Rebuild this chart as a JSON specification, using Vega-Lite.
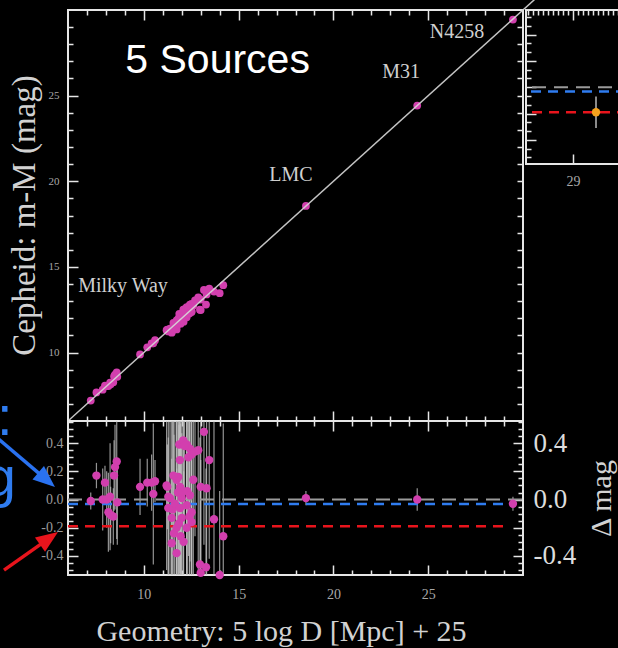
{
  "$schema": "https://vega.github.io/schema/vega-lite/v6.json",
  "autosize": {"type": "none"},
  "padding": {"left": 68, "top": 10, "right": 550, "bottom": 638},
  "background": "#000000",
  "bounds": "flush",
  "columns": 2,
  "spacing": {"row": 0, "column": 3},
  "align": "each",
  "config": {
    "view": {"stroke": "#e6e6e6", "strokeWidth": 2},
    "axis": {"domain": false, "grid": false, "labelFont": "Liberation Serif", "titleFont": "Liberation Serif", "titleFontWeight": "normal", "labelColor": "#a8a8a8", "titleColor": "#d2d2d2", "tickColor": "#e6e6e6", "tickWidth": 1.5, "labelFlush": false, "labelOverlap": false, "labelFontSize": 12}
  },
  "datasets": {
    "pts": [
      {"x": 7.2, "y": 7.19, "d": -0.01, "e": 0.06},
      {"x": 7.5, "y": 7.67, "d": 0.17, "e": 0.09},
      {"x": 7.95, "y": 8.07, "d": 0.12, "e": 0.12},
      {"x": 7.83, "y": 7.83, "d": 0.0, "e": 0.22},
      {"x": 8.04, "y": 8.04, "d": 0.0, "e": 0.2},
      {"x": 8.22, "y": 8.24, "d": 0.02, "e": 0.38},
      {"x": 8.13, "y": 8.04, "d": -0.09, "e": 0.28},
      {"x": 8.25, "y": 8.14, "d": -0.11, "e": 0.2},
      {"x": 8.39, "y": 8.27, "d": -0.12, "e": 0.2},
      {"x": 8.43, "y": 8.6, "d": 0.17, "e": 0.25},
      {"x": 8.48, "y": 8.71, "d": 0.23, "e": 0.3},
      {"x": 8.57, "y": 8.84, "d": 0.27, "e": 0.55},
      {"x": 8.6, "y": 8.58, "d": -0.02, "e": 0.3},
      {"x": 9.8, "y": 9.89, "d": 0.09, "e": 0.2},
      {"x": 10.18, "y": 10.3, "d": 0.12, "e": 0.17},
      {"x": 10.41, "y": 10.53, "d": 0.12, "e": 0.2},
      {"x": 10.59, "y": 10.72, "d": 0.13, "e": 0.15},
      {"x": 10.5, "y": 10.54, "d": 0.04, "e": 0.5},
      {"x": 11.2, "y": 11.3, "d": 0.1, "e": 0.6},
      {"x": 11.24, "y": 11.33, "d": 0.09, "e": 0.3},
      {"x": 11.29, "y": 11.31, "d": 0.02, "e": 0.7},
      {"x": 11.38, "y": 11.39, "d": 0.01, "e": 0.8},
      {"x": 11.29, "y": 11.23, "d": -0.06, "e": 0.5},
      {"x": 11.47, "y": 11.34, "d": -0.13, "e": 0.9},
      {"x": 11.47, "y": 11.16, "d": -0.31, "e": 0.6},
      {"x": 11.52, "y": 11.45, "d": -0.07, "e": 0.8},
      {"x": 11.59, "y": 11.35, "d": -0.24, "e": 0.7},
      {"x": 11.64, "y": 11.61, "d": -0.03, "e": 0.9},
      {"x": 11.73, "y": 11.53, "d": -0.2, "e": 0.8},
      {"x": 11.73, "y": 11.35, "d": -0.38, "e": 0.6},
      {"x": 11.73, "y": 11.87, "d": 0.14, "e": 0.7},
      {"x": 11.82, "y": 11.98, "d": 0.16, "e": 0.9},
      {"x": 11.87, "y": 12.26, "d": 0.39, "e": 0.5},
      {"x": 11.9, "y": 12.18, "d": 0.28, "e": 0.8},
      {"x": 11.91, "y": 12.0, "d": 0.09, "e": 0.9},
      {"x": 11.91, "y": 11.85, "d": -0.06, "e": 0.7},
      {"x": 11.94, "y": 11.68, "d": -0.26, "e": 0.8},
      {"x": 12.0, "y": 12.01, "d": 0.01, "e": 0.9},
      {"x": 12.0, "y": 11.87, "d": -0.13, "e": 0.6},
      {"x": 12.08, "y": 12.5, "d": 0.42, "e": 0.7},
      {"x": 12.08, "y": 12.14, "d": 0.06, "e": 0.8},
      {"x": 12.26, "y": 12.65, "d": 0.39, "e": 0.6},
      {"x": 12.26, "y": 12.22, "d": -0.04, "e": 0.9},
      {"x": 12.26, "y": 12.06, "d": -0.2, "e": 0.5},
      {"x": 12.29, "y": 12.35, "d": 0.06, "e": 0.7},
      {"x": 12.43, "y": 12.79, "d": 0.36, "e": 0.8},
      {"x": 12.43, "y": 12.46, "d": 0.03, "e": 0.6},
      {"x": 12.52, "y": 12.84, "d": 0.32, "e": 0.9},
      {"x": 12.52, "y": 12.43, "d": -0.09, "e": 0.7},
      {"x": 12.52, "y": 12.36, "d": -0.16, "e": 0.5},
      {"x": 12.61, "y": 12.75, "d": 0.14, "e": 0.8},
      {"x": 12.7, "y": 13.04, "d": 0.34, "e": 0.6},
      {"x": 12.87, "y": 13.22, "d": 0.35, "e": 0.9},
      {"x": 13.0, "y": 13.09, "d": 0.09, "e": 0.7},
      {"x": 13.17, "y": 13.65, "d": 0.48, "e": 0.8},
      {"x": 13.45, "y": 13.73, "d": 0.28, "e": 0.7},
      {"x": 13.7, "y": 13.56, "d": -0.14, "e": 0.9},
      {"x": 14.19, "y": 13.93, "d": -0.26, "e": 0.8},
      {"x": 12.96, "y": 12.5, "d": -0.46, "e": 0.9},
      {"x": 13.28, "y": 12.8, "d": -0.48, "e": 0.7},
      {"x": 13.0, "y": 12.48, "d": -0.52, "e": 0.8},
      {"x": 14.0, "y": 13.46, "d": -0.54, "e": 0.6},
      {"x": 13.31, "y": 13.39, "d": 0.08, "e": 0.8},
      {"x": 11.56, "y": 11.73, "d": 0.17, "e": 0.4},
      {"x": 12.15, "y": 12.53, "d": 0.38, "e": 0.6},
      {"x": 12.35, "y": 12.65, "d": 0.3, "e": 0.7},
      {"x": 11.8, "y": 11.85, "d": 0.05, "e": 0.6},
      {"x": 12.4, "y": 12.28, "d": -0.12, "e": 0.8},
      {"x": 11.85, "y": 11.68, "d": -0.17, "e": 0.7},
      {"x": 12.1, "y": 11.8, "d": -0.3, "e": 0.5},
      {"x": 18.55, "y": 18.56, "d": 0.01, "e": 0.05},
      {"x": 24.42, "y": 24.42, "d": 0.0, "e": 0.08},
      {"x": 29.47, "y": 29.44, "d": -0.03, "e": 0.05}
    ],
    "diag": [{"x": 6, "y": 6}, {"x": 30.6, "y": 30.6}],
    "srclabels": [
      {"name": "N4258", "x": 26.52, "y": 28.72},
      {"name": "M31", "x": 23.57, "y": 26.38},
      {"name": "LMC", "x": 17.76, "y": 20.36},
      {"name": "Milky Way", "x": 8.9, "y": 13.86}
    ],
    "headline": [{"name": "5 Sources", "x": 13.89, "y": 27.0}],
    "barrow": [{"x": 2.15, "d": 0.451, "x2": 4.871, "d2": 0.139}],
    "rarrow": [{"x": 2.624, "d": -0.5, "x2": 4.998, "d2": -0.275}],
    "bhead": [{"x": 4.871, "d": 0.139}],
    "rhead": [{"x": 4.998, "d": -0.275}],
    "btext": [{"t": ":", "x": 3.078, "d": 0.458}, {"t": "g", "x": 3.257, "d": 0.025}],
    "inset": [{"x": 29.46, "d": -0.19, "e": 0.12}],
    "one": [{}]
  },
  "concat": [
    {
      "width": 455,
      "height": 411,
      "resolve": {"axis": {"x": "independent", "y": "independent"}},
      "layer": [
        {
          "data": {"name": "pts"},
          "mark": {"type": "circle", "color": "#d23fae", "opacity": 1, "size": 60},
          "encoding": {
            "x": {"field": "x", "type": "quantitative", "scale": {"domain": [6, 30], "nice": false, "zero": false},
              "axis": {"orient": "bottom", "values": [10, 15, 20, 25], "labels": false, "tickSize": -10, "title": null}},
            "y": {"field": "y", "type": "quantitative", "scale": {"domain": [6, 30], "nice": false, "zero": false},
              "axis": {"orient": "left", "values": [10, 15, 20, 25], "ticks": false, "labelPadding": 9, "labelFontSize": 11, "title": "Cepheid: m-M (mag)", "titleFontSize": 33, "titleAngle": -90, "titleX": -34, "titleY": 205, "titleBaseline": "alphabetic", "titleAlign": "center"}}
          }
        },
        {
          "data": {"name": "diag"},
          "mark": {"type": "line", "color": "#d8d8d8", "strokeWidth": 1.5, "opacity": 0.9, "clip": false},
          "encoding": {
            "x": {"field": "x", "type": "quantitative", "scale": {"domain": [6, 30], "nice": false, "zero": false},
              "axis": {"orient": "bottom", "values": [7, 8, 9, 11, 12, 13, 14, 16, 17, 18, 19, 21, 22, 23, 24, 26, 27, 28, 29], "labels": false, "tickSize": -5, "title": null}},
            "y": {"field": "y", "type": "quantitative", "scale": {"domain": [6, 30], "nice": false, "zero": false},
              "axis": {"orient": "left", "values": [10, 15, 20, 25], "labels": false, "tickSize": -10, "title": null}}
          }
        },
        {
          "data": {"name": "srclabels"},
          "mark": {"type": "text", "font": "Liberation Serif", "fontSize": 20, "color": "#cfcfcf", "align": "center", "baseline": "middle"},
          "encoding": {
            "text": {"field": "name"},
            "x": {"field": "x", "type": "quantitative", "scale": {"domain": [6, 30], "nice": false, "zero": false},
              "axis": {"orient": "top", "values": [10, 15, 20, 25], "labels": false, "tickSize": -10, "title": null}},
            "y": {"field": "y", "type": "quantitative", "scale": {"domain": [6, 30], "nice": false, "zero": false},
              "axis": {"orient": "left", "values": [7, 8, 9, 11, 12, 13, 14, 16, 17, 18, 19, 21, 22, 23, 24, 26, 27, 28, 29], "labels": false, "tickSize": -5, "title": null}}
          }
        },
        {
          "data": {"name": "headline"},
          "mark": {"type": "text", "font": "Liberation Sans", "fontSize": 41, "color": "#ffffff", "align": "center", "baseline": "middle"},
          "encoding": {
            "text": {"field": "name"},
            "x": {"field": "x", "type": "quantitative", "scale": {"domain": [6, 30], "nice": false, "zero": false},
              "axis": {"orient": "top", "values": [7, 8, 9, 11, 12, 13, 14, 16, 17, 18, 19, 21, 22, 23, 24, 26, 27, 28, 29], "labels": false, "tickSize": -5, "title": null}},
            "y": {"field": "y", "type": "quantitative", "scale": {"domain": [6, 30], "nice": false, "zero": false},
              "axis": {"orient": "right", "values": [7, 8, 9, 10, 11, 12, 13, 14, 15, 16, 17, 18, 19, 20, 21, 22, 23, 24, 25, 26, 27, 28, 29], "labels": false, "tickSize": -6, "title": null}}
          }
        }
      ]
    },
    {
      "width": 93,
      "height": 154,
      "resolve": {"axis": {"x": "independent", "y": "independent"}},
      "layer": [
        {
          "data": {"name": "one"},
          "mark": {"type": "rule", "color": "#9a9a9a", "strokeWidth": 2, "strokeDash": [14, 8]},
          "encoding": {
            "x": {"datum": 28.18, "type": "quantitative", "scale": {"domain": [28.06, 29.92], "nice": false, "zero": false},
              "axis": {"orient": "top", "values": [29], "labels": false, "tickSize": -10, "title": null}},
            "x2": {"datum": 30},
            "y": {"datum": 0, "type": "quantitative", "scale": {"domain": [-0.583, 0.587], "nice": false, "zero": false, "clamp": true},
              "axis": {"orient": "left", "values": [-0.4, -0.2, 0, 0.2, 0.4], "labels": false, "tickSize": -10, "title": null}}
          }
        },
        {
          "data": {"name": "one"},
          "mark": {"type": "rule", "color": "#2f7cf0", "strokeWidth": 2.5, "strokeDash": [10, 7]},
          "encoding": {
            "x": {"datum": 28.16, "type": "quantitative", "scale": {"domain": [28.06, 29.92], "nice": false, "zero": false},
              "axis": {"orient": "top", "values": [28.1, 28.2, 28.3, 28.4, 28.5, 28.6, 28.7, 28.8, 28.9, 29.1, 29.2, 29.3, 29.4, 29.5, 29.6, 29.7, 29.8, 29.9], "labels": false, "tickSize": -5, "title": null}},
            "x2": {"datum": 30},
            "y": {"datum": -0.032, "type": "quantitative", "scale": {"domain": [-0.583, 0.587], "nice": false, "zero": false, "clamp": true},
              "axis": {"orient": "left", "values": [-0.5333, -0.4667, -0.3333, -0.2667, -0.1333, -0.0667, 0.0667, 0.1333, 0.2667, 0.3333, 0.4667, 0.5333], "labels": false, "tickSize": -5, "title": null}}
          }
        },
        {
          "data": {"name": "one"},
          "mark": {"type": "rule", "color": "#e8141c", "strokeWidth": 2.5, "strokeDash": [10, 7]},
          "encoding": {
            "x": {"datum": 28.18, "type": "quantitative", "scale": {"domain": [28.06, 29.92], "nice": false, "zero": false},
              "axis": {"orient": "bottom", "values": [29], "ticks": false, "labelPadding": 10, "labelFontSize": 14, "title": null}},
            "x2": {"datum": 30},
            "y": {"datum": -0.19, "type": "quantitative", "scale": {"domain": [-0.583, 0.587], "nice": false, "zero": false, "clamp": true}, "axis": null}
          }
        },
        {
          "data": {"name": "inset"},
          "mark": {"type": "errorbar", "color": "#b8b8b8", "thickness": 1.5},
          "encoding": {
            "x": {"field": "x", "type": "quantitative", "scale": {"domain": [28.06, 29.92], "nice": false, "zero": false}, "axis": null},
            "y": {"field": "d", "type": "quantitative", "scale": {"domain": [-0.583, 0.587], "nice": false, "zero": false, "clamp": true}, "axis": null},
            "yError": {"field": "e"}
          }
        },
        {
          "data": {"name": "inset"},
          "mark": {"type": "circle", "color": "#f5a21e", "opacity": 1, "size": 70},
          "encoding": {
            "x": {"field": "x", "type": "quantitative", "scale": {"domain": [28.06, 29.92], "nice": false, "zero": false},
              "axis": {"orient": "bottom", "values": [29], "labels": false, "tickSize": -10, "title": null}},
            "y": {"field": "d", "type": "quantitative", "scale": {"domain": [-0.583, 0.587], "nice": false, "zero": false, "clamp": true}, "axis": null}
          }
        }
      ]
    },
    {
      "width": 455,
      "height": 154,
      "resolve": {"axis": {"x": "independent", "y": "independent"}},
      "layer": [
        {
          "data": {"name": "pts"},
          "mark": {"type": "errorbar", "color": "#c4c4c4", "thickness": 1.2, "opacity": 0.75},
          "encoding": {
            "x": {"field": "x", "type": "quantitative", "scale": {"domain": [6, 30], "nice": false, "zero": false}, "axis": null},
            "y": {"field": "d", "type": "quantitative", "scale": {"domain": [-0.535, 0.557], "nice": false, "zero": false, "clamp": true}, "axis": null},
            "yError": {"field": "e"}
          }
        },
        {
          "data": {"name": "one"},
          "mark": {"type": "rule", "color": "#9a9a9a", "strokeWidth": 2, "strokeDash": [14, 8]},
          "encoding": {
            "x": {"datum": 6, "type": "quantitative", "scale": {"domain": [6, 30], "nice": false, "zero": false},
              "axis": {"orient": "bottom", "values": [10, 15, 20, 25], "ticks": false, "labelPadding": 12, "labelFontSize": 14, "title": "Geometry: 5 log D [Mpc] + 25", "titleFontSize": 30, "titleX": 213, "titleY": 65, "titleBaseline": "alphabetic", "titleAlign": "center"}},
            "x2": {"datum": 30},
            "y": {"datum": 0, "type": "quantitative", "scale": {"domain": [-0.535, 0.557], "nice": false, "zero": false, "clamp": true},
              "axis": {"orient": "left", "values": [-0.4, -0.2, 0, 0.2, 0.4], "format": ".1f", "labelExpr": "replace(datum.label, '−', '-')", "ticks": false, "labelPadding": 5, "labelFontSize": 14, "labelColor": "#9a9a9a", "title": null}}
          }
        },
        {
          "data": {"name": "one"},
          "mark": {"type": "rule", "color": "#2f7cf0", "strokeWidth": 2.5, "strokeDash": [10, 7]},
          "encoding": {
            "x": {"datum": 6, "type": "quantitative", "scale": {"domain": [6, 30], "nice": false, "zero": false},
              "axis": {"orient": "bottom", "values": [10, 15, 20, 25], "labels": false, "tickSize": -10, "title": null}},
            "x2": {"datum": 29.4},
            "y": {"datum": -0.032, "type": "quantitative", "scale": {"domain": [-0.535, 0.557], "nice": false, "zero": false, "clamp": true},
              "axis": {"orient": "left", "values": [-0.4, -0.2, 0, 0.2, 0.4], "labels": false, "tickSize": -10, "title": null}}
          }
        },
        {
          "data": {"name": "one"},
          "mark": {"type": "rule", "color": "#e8141c", "strokeWidth": 2.5, "strokeDash": [10, 7]},
          "encoding": {
            "x": {"datum": 6, "type": "quantitative", "scale": {"domain": [6, 30], "nice": false, "zero": false},
              "axis": {"orient": "bottom", "values": [7, 8, 9, 11, 12, 13, 14, 16, 17, 18, 19, 21, 22, 23, 24, 26, 27, 28, 29], "labels": false, "tickSize": -5, "title": null}},
            "x2": {"datum": 29.0},
            "y": {"datum": -0.19, "type": "quantitative", "scale": {"domain": [-0.535, 0.557], "nice": false, "zero": false, "clamp": true},
              "axis": {"orient": "left", "values": [-0.5, -0.45, -0.35, -0.3, -0.25, -0.15, -0.1, -0.05, 0.05, 0.1, 0.15, 0.25, 0.3, 0.35, 0.45, 0.5, 0.55], "labels": false, "tickSize": -5, "title": null}}
          }
        },
        {
          "data": {"name": "pts"},
          "mark": {"type": "circle", "color": "#d23fae", "opacity": 1, "size": 70},
          "encoding": {
            "x": {"field": "x", "type": "quantitative", "scale": {"domain": [6, 30], "nice": false, "zero": false},
              "axis": {"orient": "top", "values": [10, 15, 20, 25], "labels": false, "tickSize": -10, "title": null}},
            "y": {"field": "d", "type": "quantitative", "scale": {"domain": [-0.535, 0.557], "nice": false, "zero": false, "clamp": true},
              "axis": {"orient": "right", "values": [-0.4, 0, 0.4], "format": ".1f", "labelExpr": "replace(datum.label, '−', '-')", "ticks": false, "labelPadding": 10, "labelFontSize": 27, "labelColor": "#dcdcdc", "title": "Δ mag", "titleFontSize": 30, "titleAngle": -90, "titleX": 87, "titleY": 77, "titleBaseline": "alphabetic", "titleAlign": "center"}}
          }
        },
        {
          "data": {"name": "barrow"},
          "mark": {"type": "rule", "color": "#2a72f0", "strokeWidth": 3.5, "clip": false},
          "encoding": {
            "x": {"field": "x", "type": "quantitative", "scale": {"domain": [6, 30], "nice": false, "zero": false},
              "axis": {"orient": "top", "values": [7, 8, 9, 11, 12, 13, 14, 16, 17, 18, 19, 21, 22, 23, 24, 26, 27, 28, 29], "labels": false, "tickSize": -5, "title": null}},
            "x2": {"field": "x2"},
            "y": {"field": "d", "type": "quantitative", "scale": {"domain": [-0.535, 0.557], "nice": false, "zero": false, "clamp": true},
              "axis": {"orient": "right", "values": [-0.4, -0.2, 0, 0.2, 0.4], "labels": false, "tickSize": -10, "title": null}},
            "y2": {"field": "d2"}
          }
        },
        {
          "data": {"name": "rarrow"},
          "mark": {"type": "rule", "color": "#e8141c", "strokeWidth": 3.5, "clip": false},
          "encoding": {
            "x": {"field": "x", "type": "quantitative", "scale": {"domain": [6, 30], "nice": false, "zero": false}, "axis": null},
            "x2": {"field": "x2"},
            "y": {"field": "d", "type": "quantitative", "scale": {"domain": [-0.535, 0.557], "nice": false, "zero": false, "clamp": true},
              "axis": {"orient": "right", "values": [-0.5, -0.45, -0.35, -0.3, -0.25, -0.15, -0.1, -0.05, 0.05, 0.1, 0.15, 0.25, 0.3, 0.35, 0.45, 0.5, 0.55], "labels": false, "tickSize": -5, "title": null}},
            "y2": {"field": "d2"}
          }
        },
        {
          "data": {"name": "bhead"},
          "mark": {"type": "point", "shape": "M0,-1L0.8,1L-0.8,1Z", "filled": true, "color": "#2a72f0", "opacity": 1, "size": 484, "angle": 130.5, "clip": false},
          "encoding": {
            "x": {"field": "x", "type": "quantitative", "scale": {"domain": [6, 30], "nice": false, "zero": false}, "axis": null},
            "y": {"field": "d", "type": "quantitative", "scale": {"domain": [-0.535, 0.557], "nice": false, "zero": false, "clamp": true}, "axis": null}
          }
        },
        {
          "data": {"name": "rhead"},
          "mark": {"type": "point", "shape": "M0,-1L0.8,1L-0.8,1Z", "filled": true, "color": "#e8141c", "opacity": 1, "size": 484, "angle": 55, "clip": false},
          "encoding": {
            "x": {"field": "x", "type": "quantitative", "scale": {"domain": [6, 30], "nice": false, "zero": false}, "axis": null},
            "y": {"field": "d", "type": "quantitative", "scale": {"domain": [-0.535, 0.557], "nice": false, "zero": false, "clamp": true}, "axis": null}
          }
        },
        {
          "data": {"name": "btext"},
          "mark": {"type": "text", "font": "Liberation Sans", "fontSize": 56, "color": "#2f7cf0", "align": "right", "baseline": "alphabetic", "clip": false},
          "encoding": {
            "text": {"field": "t"},
            "x": {"field": "x", "type": "quantitative", "scale": {"domain": [6, 30], "nice": false, "zero": false}, "axis": null},
            "y": {"field": "d", "type": "quantitative", "scale": {"domain": [-0.535, 0.557], "nice": false, "zero": false, "clamp": true}, "axis": null}
          }
        }
      ]
    }
  ]
}
